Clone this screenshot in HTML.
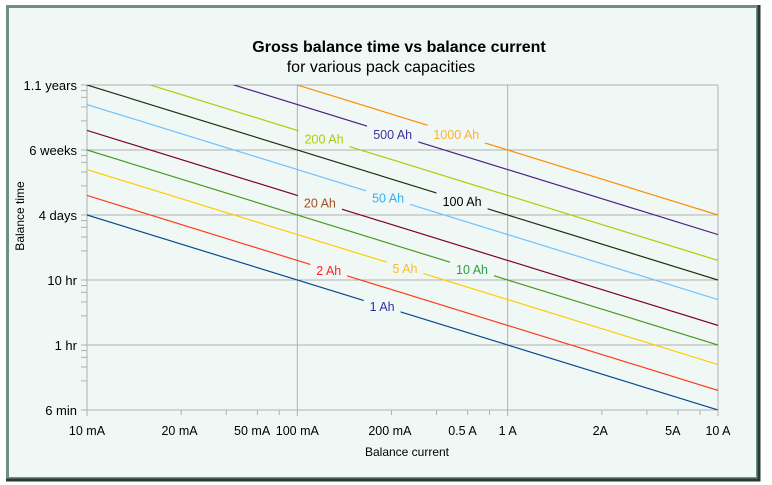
<!DOCTYPE html>
<html><head><meta charset="utf-8"><style>
html,body{margin:0;padding:0;background:#fff}
svg{display:block;font-family:"Liberation Sans",sans-serif}
</style></head><body>
<svg width="772" height="485" xmlns="http://www.w3.org/2000/svg">
<rect x="0" y="0" width="772" height="485" fill="#ffffff"/>
<rect x="7.5" y="6.5" width="750" height="472" fill="#f0f8f6" stroke="#6f8f80" stroke-width="3"/>
<path d="M759 5 V480 H6" fill="none" stroke="#2a3a33" stroke-width="3"/>
<text x="399" y="52" text-anchor="middle" font-size="16" font-weight="bold">Gross balance time vs balance current</text>
<text x="381" y="72" text-anchor="middle" font-size="16">for various pack capacities</text>
<g id="grid"></g>
<g id="lines"></g>
<g id="labels"></g>
<g id="axes"></g>
<text x="407" y="456" text-anchor="middle" font-size="12">Balance current</text>
<text transform="translate(24,216) rotate(-90)" text-anchor="middle" font-size="12">Balance time</text>
</svg>
<script>
const capacities=[1,2,5,10,20,50,100,200,500,1000];
const seriesNames=["1 Ah","2 Ah","5 Ah","10 Ah","20 Ah","50 Ah","100 Ah","200 Ah","500 Ah","1000 Ah"];
const labelCurrents=[0.253,0.141,0.325,0.677,0.128,0.27,0.607,0.134,0.284,0.57];
const lineColors=["#0b4a8c","#ff3a1a","#ffcc00","#4a9a20","#80002a","#70c0ff","#203010","#a8d000","#502080","#ff8c00"];
const labelColors=["#3030a0","#ff2020","#ffbb22","#2aa040","#a05020","#30b0f0","#000000","#a8d000","#4030a0","#ffb030"];
const xTickValues=[0.01,0.02,0.05,0.1,0.2,0.5,1,2,5,10];
const xTickLabels=["10 mA","20 mA","50 mA","100 mA","200 mA","0.5 A","1 A","2A","5A","10 A"];
const yTickValues=[0.1,1,10,100,1000,10000];
const yTickLabels=["6 min","1 hr","10 hr","4 days","6 weeks","1.1 years"];
const minorMantissas=[2,3,5,7];
const minorFrac=[0.448,0.662,0.81,0.914];
const labelFrac=[0.44,0.662,0.785,0.914];

const X0=87,X1=718,Y0=410,Y1=85;
const xmin=0.01,xmax=10,ymin=0.1,ymax=10000;
function xs(v){return X0+(Math.log10(v)-Math.log10(xmin))/(Math.log10(xmax)-Math.log10(xmin))*(X1-X0);}
function ys(v){return Y0-(Math.log10(v)-Math.log10(ymin))/(Math.log10(ymax)-Math.log10(ymin))*(Y0-Y1);}
function xTickPos(v){const d=Math.floor(Math.log10(v)+1e-9);const m=Math.round(v/Math.pow(10,d));const k=minorMantissas.indexOf(m);
 const f=k>=0?labelFrac[k]:Math.log10(m);return xs(Math.pow(10,d))+f*(X1-X0)/3;}
const NS="http://www.w3.org/2000/svg";
function mk(tag,attrs,parent){const e=document.createElementNS(NS,tag);for(const k in attrs)e.setAttribute(k,attrs[k]);parent.appendChild(e);return e;}
const grid=document.getElementById('grid'),lines=document.getElementById('lines'),labels=document.getElementById('labels'),axes=document.getElementById('axes');
for(let d=-2;d<=1;d++){const x=xs(Math.pow(10,d));const l=mk('line',{x1:x,x2:x,y1:Y1,y2:Y0,stroke:'#b0b0b0','stroke-width':1},grid);

}
for(let d=-1;d<=4;d++){const y=ys(Math.pow(10,d));const l=mk('line',{x1:X0,x2:X1,y1:y,y2:y,stroke:'#b0b0b0','stroke-width':1},grid);

}
const dx=(X1-X0)/3,dy=(Y0-Y1)/5;
for(let d=0;d<3;d++)minorFrac.forEach(f=>{const x=X0+(d+f)*dx;mk('line',{x1:x,x2:x,y1:Y0,y2:Y0+5,stroke:'#b0b0b0'},axes);});
for(let d=0;d<3;d++){mk('line',{x1:X0+d*dx,x2:X0+d*dx,y1:Y0,y2:Y0+6,stroke:'#b0b0b0'},axes);}
mk('line',{x1:X1,x2:X1,y1:Y0,y2:Y0+6,stroke:'#b0b0b0'},axes);
for(let d=0;d<5;d++)minorFrac.forEach(f=>{const y=Y0-(d+f)*dy;mk('line',{x1:X0-6,x2:X0,y1:y,y2:y,stroke:'#b0b0b0'},axes);});
for(let d=0;d<=5;d++){const y=Y0-d*dy;mk('line',{x1:X0-6,x2:X0,y1:y,y2:y,stroke:'#b0b0b0'},axes);}
xTickValues.forEach((v,i)=>{const t=mk('text',{x:xTickPos(v),y:435,'text-anchor':'middle','font-size':12.5},axes);t.textContent=xTickLabels[i];

});
yTickValues.forEach((v,i)=>{const t=mk('text',{x:77,y:ys(v)+5,'text-anchor':'end','font-size':13},axes);t.textContent=yTickLabels[i];

});
const defs=mk('defs',{},document.querySelector('svg'));
const cp=mk('clipPath',{id:'plotclip'},defs);mk('rect',{x:X0,y:Y1,width:X1-X0,height:Y0-Y1},cp);
lines.setAttribute('clip-path','url(#plotclip)');
capacities.forEach((c,i)=>{
 const p=mk('line',{x1:xs(xmin),y1:ys(c/xmin),x2:xs(xmax),y2:ys(c/xmax),stroke:lineColors[i],'stroke-width':1.2},lines);
 
 
 const lx=xs(labelCurrents[i]),ly=ys(c/labelCurrents[i]);
 const t=mk('text',{x:lx,y:ly+5,'text-anchor':'middle','font-size':12.5,fill:labelColors[i]},labels);
 t.textContent=seriesNames[i];
 
 
 const w=seriesNames[i].length*7.2+8;
 const bg=mk('rect',{x:lx-w/2,y:ly-9,width:w,height:18,fill:'#f0f8f6'},labels);
 labels.insertBefore(bg,t);
});
</script>
</body></html>
